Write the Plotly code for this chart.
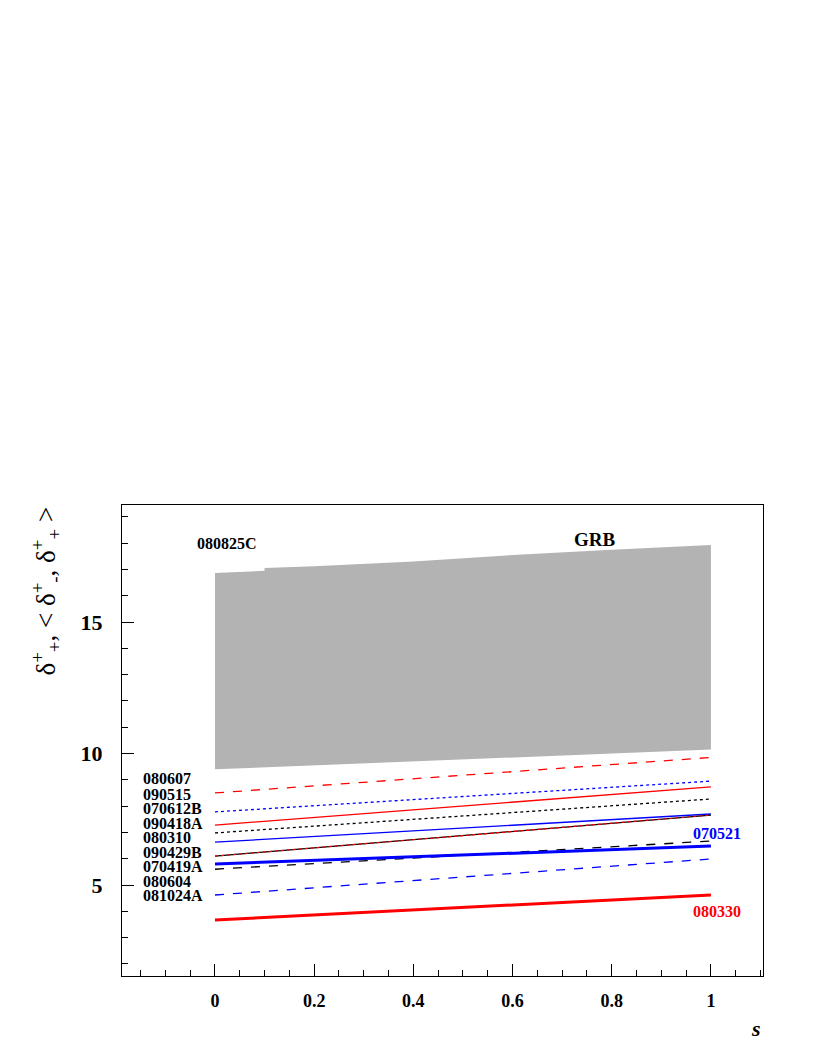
import plotly.graph_objects as go

s = [0, 1]
names = ["080607", "090515", "070612B", "090418A", "080310", "090429B", "090429B_b", "070419A", "070521", "080604", "080330"]
start = [8.5, 7.78, 7.28, 6.98, 6.63, 6.1, 6.1, 5.6, 5.8, 4.62, 3.67]
end = [9.85, 8.95, 8.73, 8.27, 7.7, 7.66, 7.66, 6.67, 6.48, 5.99, 4.62]
colors = ["red", "blue", "red", "black", "blue", "black", "red", "black", "blue", "blue", "red"]
dashes = ["dash", "dot", "solid", "dot", "solid", "solid", "dot", "dash", "solid", "dash", "solid"]
widths = [1.3, 1.3, 1.3, 1.3, 1.3, 1.3, 1.2, 1.3, 3, 1.3, 3]

band_s = [0, 0.1, 0.1, 0.2, 0.4, 0.6, 0.8, 1.0]
band_top = [16.86, 16.95, 17.05, 17.12, 17.3, 17.55, 17.75, 17.93]
band_bot_s = [0, 1]
band_bot = [9.4, 10.15]

left_labels = ["080607", "090515", "070612B", "090418A", "080310", "090429B", "070419A", "080604", "081024A"]
left_label_y = [9.05, 8.45, 7.9, 7.35, 6.8, 6.25, 5.7, 5.15, 4.6]

fig = go.Figure()
fig.add_trace(go.Scatter(x=band_s + band_bot_s[::-1], y=band_top + band_bot[::-1], fill="toself",
                         fillcolor="#b3b3b3", line=dict(width=0), mode="lines", showlegend=False))
for n, a, b, c, d, w in zip(names, start, end, colors, dashes, widths):
    fig.add_trace(go.Scatter(x=s, y=[a, b], mode="lines", line=dict(color=c, dash=d, width=w), showlegend=False))

fnt = dict(family="Liberation Serif", size=16, color="black", weight="bold")
anns = []
for t, y in zip(left_labels, left_label_y):
    anns.append(dict(x=-0.15, y=y, text=t, showarrow=False, xanchor="left", font=fnt))
anns.append(dict(x=-0.04, y=18.0, text="080825C", showarrow=False, xanchor="left", font=fnt))
anns.append(dict(x=0.72, y=18.15, text="GRB", showarrow=False, xanchor="left", font=dict(family="Liberation Serif", size=19, color="black", weight="bold")))
anns.append(dict(x=0.96, y=6.95, text="070521", showarrow=False, xanchor="left", font=dict(family="Liberation Serif", size=16, color="blue", weight="bold")))
anns.append(dict(x=0.96, y=4.0, text="080330", showarrow=False, xanchor="left", font=dict(family="Liberation Serif", size=16, color="red", weight="bold")))
anns.append(dict(x=1.0, y=-0.08, xref="paper", yref="paper", text="<i>s</i>", showarrow=False, xanchor="right", yanchor="top",
                 font=dict(family="Liberation Serif", size=22, color="black", weight="bold")))
anns.append(dict(x=-0.12, y=1.0, xref="paper", yref="paper", text="δ<sup>+</sup><sub>+</sub>, < δ<sup>+</sup><sub>-</sub>, δ<sup>+</sup><sub>+</sub> >",
                 showarrow=False, textangle=-90, xanchor="center", yanchor="top",
                 font=dict(family="Liberation Serif", size=27, color="black")))

fig.update_layout(
    width=822, height=1064, plot_bgcolor="white", paper_bgcolor="white",
    margin=dict(l=114, r=67, t=497, b=96, autoexpand=False), annotations=anns,
    xaxis=dict(range=[-0.1875, 1.105], tickvals=[0, 0.2, 0.4, 0.6, 0.8, 1], ticktext=["0", "0.2", "0.4", "0.6", "0.8", "1"],
               ticks="inside", ticklen=12, tickcolor="black", showgrid=False, zeroline=False, showline=True, linecolor="black", mirror=True,
               minor=dict(dtick=0.05, tick0=0, ticks="inside", ticklen=6, tickcolor="black"), automargin=False,
               tickfont=dict(family="Liberation Serif", size=18, color="black", weight="bold"), ticklabelstandoff=8),
    yaxis=dict(range=[1.54, 19.45], tickvals=[5, 10, 15], ticks="inside", ticklen=12, tickcolor="black",
               showgrid=False, zeroline=False, showline=True, linecolor="black", mirror=True, automargin=False,
               minor=dict(dtick=1, tick0=0, ticks="inside", ticklen=6, tickcolor="black"),
               tickfont=dict(family="Liberation Serif", size=22, color="black", weight="bold"), ticklabelstandoff=14),
)
fig.write_html("out.html")
